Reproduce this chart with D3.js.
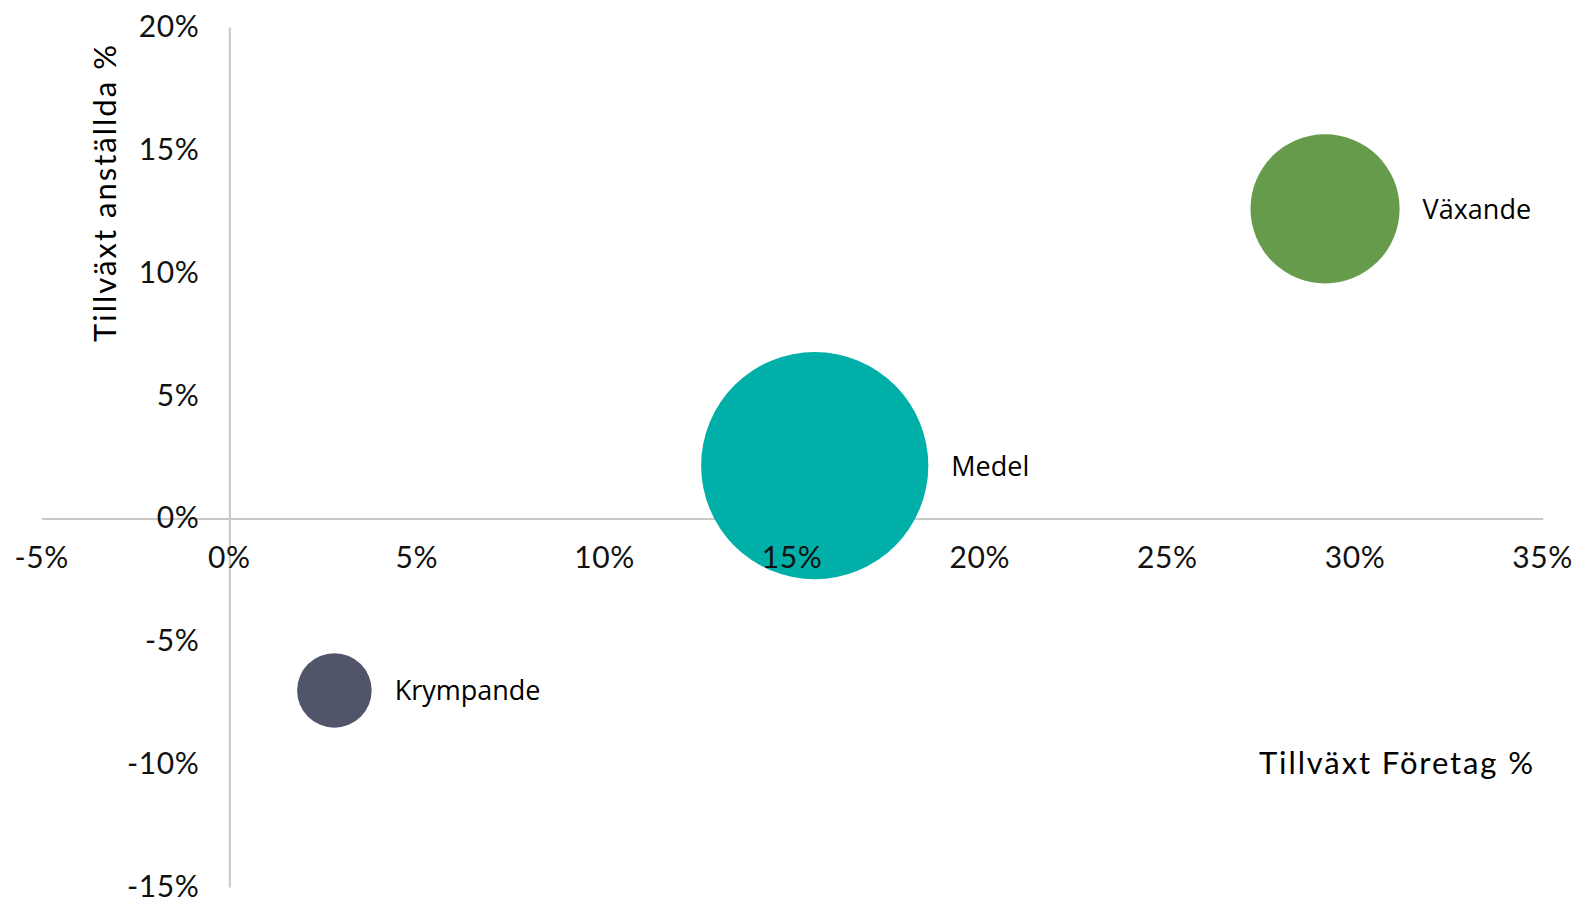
<!DOCTYPE html>
<html>
<head>
<meta charset="utf-8">
<script src="https://cdn.jsdelivr.net/npm/d3@7"></script>
<style>
  html, body { margin: 0; padding: 0; background: #ffffff; }
  svg { display: block; }
</style>
</head>
<body>
<svg id="chart" width="1580" height="900"></svg>
<script>
// ---- data ----
const categories = ["Krympande", "Medel", "Växande"];
const growthCompanies = [2.8, 15.6, 29.2];    // x: Tillväxt Företag %
const growthEmployees = [-7.0, 2.15, 12.6];    // y: Tillväxt anställda %
const bubbleSizes = [14, 130, 56];             // relative bubble size
const colors = ["#51556A", "#00B0A8", "#659B4A"];
const xTicks = [-5, 0, 5, 10, 15, 20, 25, 30, 35];
const yTicks = [-15, -10, -5, 0, 5, 10, 15, 20];
const xTitle = "Tillväxt Företag %";
const yTitle = "Tillväxt anställda %";

const svg = d3.select("#chart");

const x = d3.scaleLinear().domain([-5, 35]).range([41.7, 1542.7]);
const y = d3.scaleLinear().domain([-15, 20]).range([887, 27]);
const r = d3.scaleSqrt().domain([0, d3.max(bubbleSizes)]).range([0, 113.6]);

const tickFont = "Lato, 'Open Sans', sans-serif";

// axis lines (crossing at zero)
const xAxis = d3.axisBottom(x).tickValues(xTicks).tickSize(0).tickFormat(() => "");
const yAxis = d3.axisLeft(y).tickValues(yTicks).tickSize(0).tickFormat(() => "");

const gx = svg.append("g").attr("transform", `translate(0,${y(0)})`).call(xAxis);
const gy = svg.append("g").attr("transform", `translate(${x(0)},0)`).call(yAxis);
[gx, gy].forEach(g => {
  g.select(".domain").attr("stroke", "#C8C8C8").attr("stroke-width", 2);
  g.selectAll(".tick").remove();
});

// bubbles
const data = categories.map((c, i) => ({
  name: c, xv: growthCompanies[i], yv: growthEmployees[i], s: bubbleSizes[i], color: colors[i]
}));

svg.append("g").selectAll("circle")
  .data(data)
  .join("circle")
  .attr("cx", d => x(d.xv))
  .attr("cy", d => y(d.yv))
  .attr("r", d => r(d.s))
  .attr("fill", d => d.color);

// bubble labels
svg.append("g").selectAll("text")
  .data(data)
  .join("text")
  .attr("x", d => x(d.xv) + r(d.s) + 23)
  .attr("y", d => y(d.yv) + 10)
  .attr("font-family", "'Open Sans', sans-serif")
  .attr("font-size", 27)
  .attr("fill", "#000")
  .text(d => d.name);

// tick labels (drawn above bubbles)
svg.append("g").selectAll("text")
  .data(xTicks)
  .join("text")
  .attr("x", d => x(d))
  .attr("y", y(0) + 50)
  .attr("text-anchor", "middle")
  .attr("font-family", tickFont)
  .attr("font-size", 30)
  .attr("letter-spacing", 0.6)
  .attr("fill", "#111")
  .text(d => d + "%");

svg.append("g").selectAll("text")
  .data(yTicks)
  .join("text")
  .attr("x", x(0) - 30)
  .attr("y", d => y(d) + 10)
  .attr("text-anchor", "end")
  .attr("font-family", tickFont)
  .attr("font-size", 30)
  .attr("letter-spacing", 0.6)
  .attr("fill", "#111")
  .text(d => d + "%");

// axis titles
svg.append("text")
  .attr("x", 1533)
  .attr("y", 774)
  .attr("text-anchor", "end")
  .attr("font-family", tickFont)
  .attr("font-size", 31)
  .attr("textLength", 274)
  .attr("lengthAdjust", "spacing")
  .attr("fill", "#000")
  .text(xTitle);

svg.append("text")
  .attr("transform", "translate(116,342) rotate(-90)")
  .attr("text-anchor", "start")
  .attr("font-family", tickFont)
  .attr("font-size", 31)
  .attr("textLength", 297)
  .attr("lengthAdjust", "spacing")
  .attr("fill", "#000")
  .text(yTitle);
</script>
</body>
</html>
